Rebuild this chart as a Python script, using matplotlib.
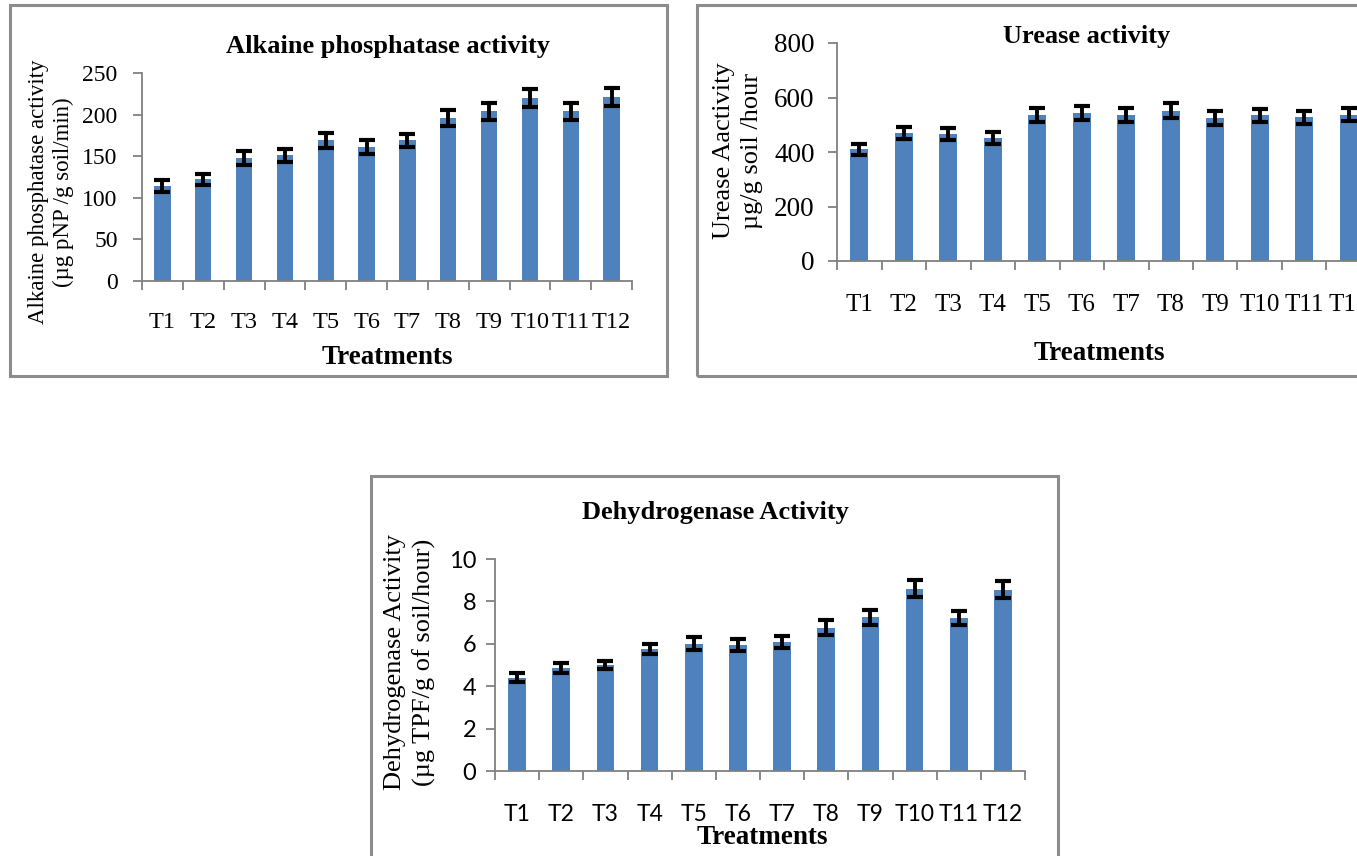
import numpy as np
import matplotlib
matplotlib.use("Agg")
import matplotlib.pyplot as plt
from matplotlib.patches import Rectangle

# Data
treatments = ["T1", "T2", "T3", "T4", "T5", "T6", "T7", "T8", "T9", "T10", "T11", "T12"]

alk_phos = [114, 122, 148, 151, 169, 161, 169, 196, 204, 220, 204, 221]
alk_phos_err = [7, 7, 8, 8, 9, 8, 8, 10, 10, 11, 10, 11]

urease = [410, 470, 465, 452, 535, 542, 535, 552, 525, 535, 528, 537]
urease_err = [20, 22, 22, 22, 25, 25, 25, 27, 25, 24, 24, 25]

dehyd = [4.4, 4.85, 5.0, 5.75, 6.0, 5.95, 6.1, 6.75, 7.25, 8.6, 7.2, 8.55]
dehyd_err = [0.2, 0.25, 0.2, 0.25, 0.3, 0.3, 0.28, 0.35, 0.35, 0.4, 0.33, 0.4]

W, H = 1357, 856
BAR = "#4F81BD"
SERIF = "Liberation Serif"
SANS = "Lato"

fig = plt.figure(figsize=(W / 100, H / 100), dpi=100)


def px_axes(x0, y_top, x1, y_bot):
    return fig.add_axes([x0 / W, 1 - y_bot / H, (x1 - x0) / W, (y_bot - y_top) / H])


def border(x0, y0, x1, y1):
    fig.patches.append(Rectangle((x0 / W, 1 - y1 / H), (x1 - x0) / W, (y1 - y0) / H,
                                 transform=fig.transFigure, fill=False,
                                 edgecolor="#8c8c8c", linewidth=2.2))


def bar_panel(ax, vals, errs, ymax, step, ytick_fs, ypad, xtick_fs, xpad,
              ytick_font=SERIF, xtick_font=SERIF):
    x = np.arange(len(treatments))
    ax.bar(x, vals, width=0.40, color=BAR, zorder=2)
    ax.errorbar(x, vals, yerr=errs, fmt="none", ecolor="black", elinewidth=2.8,
                capsize=6, capthick=3, zorder=3)
    ax.set_xlim(-0.5, len(treatments) - 0.5)
    ax.set_ylim(0, ymax)
    ax.set_yticks(np.arange(0, ymax + step / 2, step))
    ax.set_xticks(x)
    ax.set_xticklabels(treatments, fontfamily=xtick_font, fontsize=xtick_fs)
    ax.set_xticks(np.arange(-0.5, len(treatments), 1), minor=True)
    ax.tick_params(axis="x", which="major", length=0, pad=xpad)
    ax.tick_params(axis="x", which="minor", length=6.5, width=1.3, color="#808080", direction="out")
    ax.tick_params(axis="y", length=6.5, width=1.3, color="#808080", direction="out",
                   labelsize=ytick_fs, pad=ypad)
    for lab in ax.get_yticklabels():
        lab.set_fontfamily(ytick_font)
    for s in ["top", "right"]:
        ax.spines[s].set_visible(False)
    for s in ["left", "bottom"]:
        ax.spines[s].set_color("#808080")
        ax.spines[s].set_linewidth(1.3)
    ax.set_facecolor("none")


# Panel 1: Alkaine phosphatase
border(10, 5, 667, 376)
ax1 = px_axes(142, 73, 632, 281)
bar_panel(ax1, alk_phos, alk_phos_err, 250, 50, 17, 11, 17.5, 22)
fig.text(388 / W, 1 - 47 / H, "Alkaine phosphatase activity", ha="center", va="center",
         fontfamily=SERIF, fontweight="bold", fontsize=19)
fig.text(51 / W, 1 - 192 / H, "Alkaine phosphatase activity\n(µg pNP /g soil/min)",
         ha="center", va="center", rotation=90, fontfamily=SERIF, fontsize=16.5, linespacing=1.2)
fig.text(387 / W, 1 - 357 / H, "Treatments", ha="center", va="center",
         fontfamily=SERIF, fontweight="bold", fontsize=19.5)

# Panel 2: Urease
border(697, 5, 1365, 376)
ax2 = px_axes(837, 43, 837 + 12 * 44.5, 261)
bar_panel(ax2, urease, urease_err, 800, 200, 19.5, 9.5, 18, 24)
fig.text(1087 / W, 1 - 37 / H, "Urease activity", ha="center", va="center",
         fontfamily=SERIF, fontweight="bold", fontsize=19)
fig.text(738 / W, 1 - 151 / H, "Urease Aactivity\nµg/g soil /hour",
         ha="center", va="center", rotation=90, fontfamily=SERIF, fontsize=19, linespacing=1.3)
fig.text(1099 / W, 1 - 353 / H, "Treatments", ha="center", va="center",
         fontfamily=SERIF, fontweight="bold", fontsize=19.5)

# Panel 3: Dehydrogenase
border(371, 476, 1058, 870)
ax3 = px_axes(495, 559, 1025, 771)
bar_panel(ax3, dehyd, dehyd_err, 10, 2, 17, 7, 16.5, 24, ytick_font=SANS, xtick_font=SANS)
fig.text(715 / W, 1 - 513 / H, "Dehydrogenase Activity", ha="center", va="center",
         fontfamily=SERIF, fontweight="bold", fontsize=19)
fig.text(410 / W, 1 - 662 / H, "Dehydrogenase Activity\n(µg TPF/g of soil/hour)",
         ha="center", va="center", rotation=90, fontfamily=SERIF, fontsize=19, linespacing=1.35)
fig.text(762 / W, 1 - 838 / H, "Treatments", ha="center", va="center",
         fontfamily=SERIF, fontweight="bold", fontsize=19.5)

fig.savefig("out.png", dpi=100)
